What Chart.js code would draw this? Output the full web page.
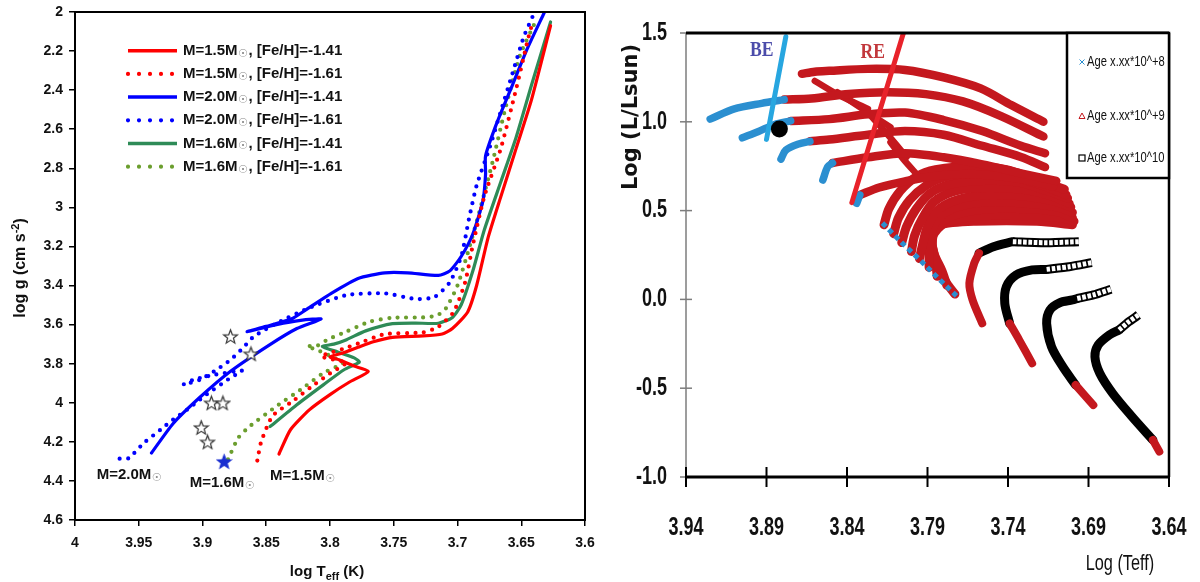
<!DOCTYPE html>
<html>
<head>
<meta charset="utf-8">
<script src="https://cdn.jsdelivr.net/npm/chart.js@4.4.0/dist/chart.umd.min.js"></script>
<style>
  html, body { margin: 0; padding: 0; background: #fff; }
  #wrap { position: relative; width: 1200px; height: 582px; }
  .panel { position: absolute; top: 0; width: 600px; height: 582px; }
  #left { left: 0; }
  #right { left: 600px; }
</style>
</head>
<body>
<div id="wrap">
  <div class="panel" id="left"><canvas id="cLeft"></canvas></div>
  <div class="panel" id="right"><canvas id="cRight"></canvas></div>
</div>
<script>
// ---------- Left panel: evolutionary tracks, log Teff vs log g ----------
const leftTempTicks = [4, 3.95, 3.9, 3.85, 3.8, 3.75, 3.7, 3.65, 3.6];
const leftGravTicks = [2, 2.2, 2.4, 2.6, 2.8, 3, 3.2, 3.4, 3.6, 3.8, 4, 4.2, 4.4, 4.6];

const m15feh141 = [[3.840,4.262],[3.831,4.138],[3.816,4.035],[3.800,3.958],[3.785,3.895],[3.770,3.840],[3.781,3.812],[3.793,3.780],[3.800,3.765],[3.790,3.745],[3.778,3.716],[3.766,3.688],[3.751,3.665],[3.727,3.658],[3.712,3.648],[3.704,3.620],[3.692,3.535],[3.685,3.400],[3.676,3.155],[3.666,2.945],[3.654,2.698],[3.642,2.450],[3.627,2.070]];
const m15feh161 = [[3.857,4.296],[3.854,4.200],[3.845,4.067],[3.829,3.991],[3.814,3.915],[3.800,3.850],[3.787,3.795],[3.795,3.782],[3.807,3.763],[3.800,3.745],[3.790,3.725],[3.778,3.697],[3.757,3.649],[3.727,3.640],[3.715,3.611],[3.703,3.535],[3.694,3.383],[3.688,3.193],[3.679,2.945],[3.666,2.698],[3.654,2.394],[3.645,2.146],[3.641,2.050]];
const m20feh141 = [[3.940,4.257],[3.923,4.106],[3.902,3.972],[3.878,3.839],[3.848,3.706],[3.826,3.620],[3.807,3.571],[3.823,3.578],[3.842,3.600],[3.865,3.636],[3.850,3.609],[3.830,3.570],[3.817,3.516],[3.799,3.440],[3.778,3.364],[3.757,3.335],[3.739,3.335],[3.715,3.348],[3.706,3.325],[3.697,3.250],[3.688,3.136],[3.680,2.965],[3.678,2.831],[3.678,2.736],[3.669,2.565],[3.657,2.375],[3.645,2.184],[3.632,2.004]];
const m20feh161 = [[3.965,4.286],[3.958,4.284],[3.946,4.206],[3.933,4.138],[3.923,4.086],[3.912,4.035],[3.902,3.984],[3.897,3.958],[3.878,3.872],[3.869,3.836],[3.890,3.856],[3.907,3.882],[3.915,3.907],[3.902,3.882],[3.889,3.831],[3.878,3.780],[3.868,3.718],[3.860,3.662],[3.841,3.590],[3.817,3.516],[3.787,3.449],[3.757,3.440],[3.733,3.469],[3.718,3.459],[3.706,3.383],[3.697,3.250],[3.691,3.059],[3.685,2.888],[3.675,2.698],[3.666,2.508],[3.657,2.317],[3.648,2.127],[3.641,2.022]];
const m16feh141 = [[3.847,4.122],[3.826,4.010],[3.805,3.907],[3.789,3.831],[3.777,3.792],[3.781,3.770],[3.794,3.740],[3.806,3.712],[3.797,3.700],[3.787,3.677],[3.772,3.632],[3.751,3.595],[3.733,3.592],[3.715,3.593],[3.704,3.563],[3.697,3.497],[3.688,3.326],[3.679,3.116],[3.666,2.869],[3.654,2.641],[3.642,2.375],[3.627,2.051]];
const m16feh161 = [[3.880,4.290],[3.872,4.180],[3.863,4.121],[3.842,4.018],[3.823,3.933],[3.805,3.847],[3.790,3.796],[3.800,3.760],[3.810,3.730],[3.818,3.711],[3.810,3.708],[3.802,3.677],[3.787,3.635],[3.769,3.585],[3.751,3.565],[3.727,3.563],[3.716,3.553],[3.709,3.516],[3.700,3.400],[3.691,3.212],[3.682,3.003],[3.672,2.755],[3.663,2.508],[3.651,2.222],[3.639,2.051]];

const starsOpen = [[3.878,3.660],[3.862,3.749],[3.893,4.000],[3.884,4.000],[3.901,4.126],[3.896,4.200]];
const starFilled = [[3.883,4.300]];

const massLabels = ['M=2.0M', 'M=1.6M', 'M=1.5M'];
const massLabelPos = [[3.983,4.368],[3.910,4.409],[3.847,4.373]];

const trackNames = ['M=1.5M☉, [Fe/H]=-1.41','M=1.5M☉, [Fe/H]=-1.61','M=2.0M☉, [Fe/H]=-1.41','M=2.0M☉, [Fe/H]=-1.61','M=1.6M☉, [Fe/H]=-1.41','M=1.6M☉, [Fe/H]=-1.61'];
const trackColors = ['#ff0000','#ff0000','#0000ff','#0000ff','#2e8b57','#6b9e2e'];
const trackDotted = [false, true, false, true, false, true];
const trackData = [m15feh141, m15feh161, m20feh141, m20feh161, m16feh141, m16feh161];

const pts = arr => arr.map(([x, y]) => ({ x, y }));

function starImage(size, fill, stroke) {
  const c = document.createElement('canvas');
  c.width = c.height = size;
  const g = c.getContext('2d');
  const r = size / 2 - 1.2, ri = r * 0.42, cx = size / 2, cy = size / 2 + 0.8;
  g.beginPath();
  for (let i = 0; i < 10; i++) {
    const a = -Math.PI / 2 + i * Math.PI / 5;
    const rr = i % 2 ? ri : r;
    g.lineTo(cx + rr * Math.cos(a), cy + rr * Math.sin(a));
  }
  g.closePath();
  g.fillStyle = fill; g.fill();
  g.strokeStyle = stroke; g.lineWidth = 1.2; g.stroke();
  return c;
}

const SANS = "'Liberation Sans', Arial, sans-serif";

// keep the plot box where the axes put it, without extra room for end labels
const noEdgePadding = s => { s.paddingLeft = 0; s.paddingRight = 0; s.paddingTop = 0; s.paddingBottom = 0; };

const leftDatasets = trackData.map((d, i) => ({
  label: trackNames[i],
  data: pts(d),
  showLine: true,
  borderColor: trackColors[i],
  backgroundColor: trackColors[i],
  borderWidth: trackDotted[i] ? 4.2 : 3.2,
  borderDash: trackDotted[i] ? [0, 8.5] : [],
  borderCapStyle: 'round',
  borderJoinStyle: 'round',
  pointRadius: 0,
  tension: 0.2,
  order: 2
}));
leftDatasets.push({
  label: 'stars', data: pts(starsOpen), showLine: false,
  pointStyle: starImage(17, '#ffffff', '#333333'), pointRadius: 8, order: 0
});
leftDatasets.push({
  label: 'star', data: pts(starFilled), showLine: false,
  pointStyle: starImage(17, '#1a2fd0', '#1a2fd0'), pointRadius: 8, order: 0
});

function drawSunText(ctx, x, y, before, after, size) {
  ctx.font = `bold ${size}px ${SANS}`;
  ctx.fillStyle = '#111';
  ctx.textAlign = 'left';
  ctx.textBaseline = 'middle';
  ctx.fillText(before, x, y);
  let cx = x + ctx.measureText(before).width;
  ctx.font = `${Math.round(size * 0.72)}px 'DejaVu Sans', sans-serif`;
  ctx.fillStyle = '#8a8a8a';
  ctx.fillText('☉', cx + 0.5, y + 3);
  cx += ctx.measureText('☉').width + 1;
  if (after) {
    ctx.font = `bold ${size}px ${SANS}`;
    ctx.fillStyle = '#111';
    ctx.fillText(after, cx, y);
  }
}

const leftDecor = {
  id: 'leftDecor',
  afterDraw(chart) {
    const { ctx, chartArea: a, scales: { x, y } } = chart;
    ctx.save();
    ctx.strokeStyle = '#000';
    ctx.lineWidth = 2;
    ctx.strokeRect(a.left, a.top, a.right - a.left, a.bottom - a.top);

    // legend inside the plot
    trackNames.forEach((name, i) => {
      const ly = 50.7 + i * 23.2;
      ctx.beginPath();
      ctx.strokeStyle = trackColors[i];
      ctx.lineCap = 'round';
      if (trackDotted[i]) { ctx.lineWidth = 4.2; ctx.setLineDash([0, 11]); }
      else { ctx.lineWidth = 3.5; ctx.setLineDash([]); ctx.lineCap = 'butt'; }
      ctx.moveTo(128, ly); ctx.lineTo(177, ly);
      ctx.stroke();
      ctx.setLineDash([]);
      const parts = name.split('☉');
      drawSunText(ctx, 183, ly, parts[0], parts[1], 15);
    });

    // mass labels under the zero-age ends
    massLabels.forEach((t, i) => {
      const px = x.getPixelForValue(massLabelPos[i][0]);
      const py = y.getPixelForValue(massLabelPos[i][1]);
      drawSunText(ctx, px, py, t, '', 15);
    });

    // axis titles
    ctx.fillStyle = '#111';
    ctx.textBaseline = 'alphabetic';
    const xt = [['log T', 15, 0], ['eff', 11, 4], [' (K)', 15, 0]];
    let w = 0;
    xt.forEach(([s, f]) => { ctx.font = `bold ${f}px ${SANS}`; w += ctx.measureText(s).width; });
    let cx = 327 - w / 2;
    xt.forEach(([s, f, dy]) => { ctx.font = `bold ${f}px ${SANS}`; ctx.fillText(s, cx, 576 + dy); cx += ctx.measureText(s).width; });
    ctx.translate(25, 268);
    ctx.rotate(-Math.PI / 2);
    const yt = [['log g (cm s', 16, 0], ['-2', 11, -6], [')', 16, 0]];
    w = 0;
    yt.forEach(([s, f]) => { ctx.font = `bold ${f}px ${SANS}`; w += ctx.measureText(s).width; });
    cx = -w / 2;
    yt.forEach(([s, f, dy]) => { ctx.font = `bold ${f}px ${SANS}`; ctx.fillText(s, cx, dy); cx += ctx.measureText(s).width; });
    ctx.restore();
  }
};

new Chart(document.getElementById('cLeft'), {
  type: 'scatter',
  data: { datasets: leftDatasets },
  options: {
    responsive: true, maintainAspectRatio: false, animation: false, events: [],
    layout: { padding: { top: 12, right: 15, bottom: 0, left: 0 } },
    plugins: { legend: { display: false }, tooltip: { enabled: false } },
    scales: {
      x: {
        type: 'linear', min: 3.6, max: 4, reverse: true,
        afterBuildTicks: s => { s.ticks = leftTempTicks.map(v => ({ value: v })); },
        afterFit: s => { s.height = 62; noEdgePadding(s); },
        grid: { drawOnChartArea: false, drawTicks: true, tickLength: 6, color: '#000', lineWidth: 1.5 },
        border: { display: false },
        ticks: { color: '#111', font: { family: SANS, size: 14, weight: 'bold' }, padding: 9, maxRotation: 0, callback: v => String(v) }
      },
      y: {
        type: 'linear', min: 2, max: 4.6, reverse: true,
        afterBuildTicks: s => { s.ticks = leftGravTicks.map(v => ({ value: v })); },
        afterFit: s => { s.width = 75; noEdgePadding(s); },
        grid: { drawOnChartArea: false, drawTicks: true, tickLength: 6, color: '#000', lineWidth: 1.5 },
        border: { display: false },
        ticks: { color: '#111', font: { family: SANS, size: 14, weight: 'bold' }, padding: 6, callback: v => String(v) }
      }
    }
  },
  plugins: [leftDecor]
});

// ---------- Right panel: isochrones, log Teff vs log L ----------
const rightTempTicks = [3.94, 3.89, 3.84, 3.79, 3.74, 3.69, 3.64];
const rightLumTicks = [1.5, 1.0, 0.5, 0.0, -0.5, -1.0];

// young isochrones (blue = 10^8 yr part, red = 10^9 yr part)
const iso1Red = [[3.868,1.270],[3.860,1.282],[3.851,1.287],[3.827,1.298],[3.804,1.292],[3.780,1.250],[3.757,1.188],[3.738,1.094],[3.718,1.000]];
const iso2Blue = [[3.925,1.015],[3.910,1.073],[3.893,1.104],[3.879,1.125]];
const iso2Red = [[3.879,1.125],[3.862,1.131],[3.839,1.156],[3.815,1.167],[3.791,1.156],[3.768,1.115],[3.744,1.031],[3.718,0.917]];
const iso3Blue = [[3.905,0.910],[3.895,0.945],[3.885,0.985],[3.875,1.005]];
const iso3Red = [[3.875,1.005],[3.851,1.015],[3.827,1.042],[3.804,1.052],[3.780,1.010],[3.756,0.948],[3.732,0.865],[3.717,0.823]];
const iso4Blue = [[3.881,0.790],[3.878,0.840],[3.870,0.875],[3.863,0.890]];
const iso4Red = [[3.863,0.890],[3.851,0.900],[3.827,0.927],[3.804,0.948],[3.780,0.927],[3.756,0.865],[3.732,0.802],[3.717,0.745]];
const iso5Blue = [[3.855,0.672],[3.852,0.747],[3.849,0.768]];
const iso5Red = [[3.849,0.768],[3.827,0.800],[3.804,0.823],[3.780,0.800],[3.756,0.760],[3.732,0.710],[3.710,0.667]];
const iso6Blue = [[3.834,0.541],[3.832,0.588]];
const iso6Red = [[3.832,0.588],[3.820,0.630],[3.804,0.665],[3.785,0.695],[3.760,0.705],[3.730,0.675],[3.712,0.635]];
const hookStrands = [
  [[3.860,1.230],[3.845,1.150],[3.827,1.073]],
  [[3.846,1.167],[3.830,1.070],[3.813,0.969]],
  [[3.827,1.052],[3.815,0.930],[3.803,0.802]],
  [[3.813,0.885],[3.805,0.790],[3.796,0.698]]
];
// older 10^9 yr isochrones fanning out below
const fan = [
  [[3.817,0.42],[3.814,0.51],[3.807,0.61],[3.797,0.69],[3.785,0.73],[3.762,0.75],[3.741,0.73],[3.721,0.67],[3.705,0.62]],
  [[3.811,0.37],[3.808,0.46],[3.801,0.56],[3.791,0.64],[3.779,0.69],[3.758,0.71],[3.737,0.69],[3.718,0.64],[3.704,0.59]],
  [[3.806,0.32],[3.803,0.41],[3.797,0.51],[3.788,0.60],[3.775,0.65],[3.755,0.67],[3.734,0.66],[3.715,0.61],[3.703,0.57]],
  [[3.800,0.27],[3.798,0.36],[3.793,0.46],[3.786,0.55],[3.773,0.61],[3.753,0.63],[3.731,0.62],[3.712,0.58],[3.702,0.54]],
  [[3.795,0.23],[3.793,0.31],[3.790,0.41],[3.784,0.50],[3.772,0.56],[3.751,0.59],[3.729,0.58],[3.710,0.55],[3.701,0.52]],
  [[3.789,0.18],[3.789,0.27],[3.788,0.36],[3.784,0.45],[3.772,0.52],[3.751,0.55],[3.727,0.54],[3.709,0.52],[3.700,0.49]],
  [[3.784,0.13],[3.785,0.22],[3.787,0.31],[3.785,0.40],[3.775,0.47],[3.753,0.51],[3.726,0.51],[3.708,0.49],[3.700,0.46]],
  [[3.778,0.08],[3.781,0.16],[3.786,0.26],[3.787,0.35],[3.779,0.43],[3.757,0.47],[3.725,0.47],[3.707,0.46],[3.699,0.44]],
  [[3.773,0.03],[3.778,0.09],[3.785,0.20],[3.789,0.30],[3.789,0.37],[3.783,0.42],[3.760,0.44],[3.722,0.44],[3.700,0.42]]
];
const fanEdgeBlue = [[3.818,0.430],[3.806,0.320],[3.795,0.225],[3.784,0.125],[3.772,0.020]];

// 10^10 yr isochrones: red lower main sequence, black body, hollow upper end
const oldA = { red: [[3.756,-0.135],[3.762,-0.003],[3.764,0.091],[3.761,0.203],[3.758,0.260]],
               black: [[3.758,0.260],[3.749,0.297],[3.737,0.325]],
               hollow: [[3.737,0.325],[3.716,0.319],[3.696,0.325]] };
const oldB = { red: [[3.725,-0.360],[3.733,-0.229],[3.739,-0.135]],
               black: [[3.739,-0.135],[3.742,-0.022],[3.741,0.072],[3.735,0.137],[3.725,0.166],[3.716,0.169]],
               hollow: [[3.716,0.169],[3.702,0.184],[3.688,0.207]] };
const oldC = { red: [[3.687,-0.595],[3.698,-0.482]],
               black: [[3.698,-0.482],[3.706,-0.379],[3.713,-0.266],[3.716,-0.135],[3.714,-0.060],[3.708,-0.019],[3.700,-0.003],[3.697,0.005]],
               hollow: [[3.697,0.005],[3.687,0.025],[3.676,0.057]] };
const oldD = { red: [[3.646,-0.857],[3.650,-0.792]],
               black: [[3.650,-0.792],[3.663,-0.660],[3.675,-0.529],[3.683,-0.416],[3.686,-0.323],[3.684,-0.257],[3.677,-0.200],[3.671,-0.172]],
               hollow: [[3.671,-0.172],[3.665,-0.126],[3.659,-0.088]] };

const blueEdge = [[3.878,1.479],[3.890,0.901]];
const redEdge = [[3.805,1.498],[3.837,0.545]];
const starPoint = [[3.882,0.959]];
const edgeLabels = ['BE', 'RE'];
const edgeLabelPos = [[3.893,1.404],[3.824,1.393]];
const ageLegend = ['Age x.xx*10^+8', 'Age x.xx*10^+9', 'Age x.xx*10^10'];

const RED = '#c4181e', BLUE = '#2b8fd0', BLACK = '#000000';

function trackSet(data, color, width, order, extra) {
  return Object.assign({
    data: pts(data), showLine: true, borderColor: color, backgroundColor: color,
    borderWidth: width, pointRadius: 0, tension: 0.3, order,
    borderCapStyle: 'round', borderJoinStyle: 'round'
  }, extra || {});
}

const rightDatasets = [];
rightDatasets.push(trackSet(starPoint, BLACK, 0, 0, { showLine: false, pointRadius: 8.5, pointStyle: 'circle', backgroundColor: '#000' }));
rightDatasets.push(trackSet(blueEdge, '#27a6e0', 5, 1, { tension: 0 }));
rightDatasets.push(trackSet(redEdge, '#e8222a', 5, 1, { tension: 0 }));
[iso2Blue, iso3Blue, iso4Blue, iso5Blue, iso6Blue].forEach(d => rightDatasets.push(trackSet(d, BLUE, 7.5, 3)));
rightDatasets.push(trackSet(fanEdgeBlue, BLUE, 5, 3, { borderDash: [5, 4], tension: 0, borderCapStyle: 'butt' }));
[iso1Red, iso2Red, iso3Red, iso4Red, iso5Red, iso6Red].forEach(d => rightDatasets.push(trackSet(d, RED, 8.5, 4)));
hookStrands.forEach(d => rightDatasets.push(trackSet(d, RED, 6.5, 4)));
fan.forEach(d => rightDatasets.push(trackSet(d, RED, 9, 5)));
[oldA, oldB, oldC, oldD].forEach(iso => {
  rightDatasets.push(trackSet(iso.hollow, '#ffffff', 5, 2, { borderDash: [3.6, 1.6], borderCapStyle: 'butt', tension: 0.2 }));
  rightDatasets.push(trackSet(iso.hollow, BLACK, 9, 3, { borderCapStyle: 'butt', tension: 0.2 }));
  rightDatasets.push(trackSet(iso.red, RED, 8, 3));
  rightDatasets.push(trackSet(iso.black, BLACK, 9, 4));
});

// condensed-looking text: regular font squeezed horizontally
function narrowText(ctx, text, x, y, font, sx, align) {
  ctx.save();
  ctx.translate(x, y);
  ctx.scale(sx, 1);
  ctx.font = font;
  ctx.textAlign = align;
  ctx.fillText(text, 0, 0);
  ctx.restore();
}

const rightDecor = {
  id: 'rightDecor',
  afterDraw(chart) {
    const { ctx, chartArea: a, scales: { x, y } } = chart;
    const seg = (x1, y1, x2, y2) => { ctx.beginPath(); ctx.moveTo(x1, y1); ctx.lineTo(x2, y2); ctx.stroke(); };
    ctx.save();
    ctx.lineCap = 'butt';
    // left axis (thin grey) and its ticks
    ctx.strokeStyle = '#7d7d7d'; ctx.lineWidth = 1.5;
    seg(a.left, a.top, a.left, a.bottom);
    y.ticks.forEach(t => { const py = y.getPixelForValue(t.value); seg(a.left - 6, py, a.left + 6, py); });
    // frame
    ctx.strokeStyle = '#000';
    ctx.lineWidth = 3; seg(a.left, a.top, a.right, a.top);
    ctx.lineWidth = 2.5; seg(a.right, a.top, a.right, a.bottom);
    ctx.lineWidth = 3; seg(a.left - 1, a.bottom, a.right + 1, a.bottom);
    ctx.lineWidth = 2;
    x.ticks.forEach(t => { const px = x.getPixelForValue(t.value); seg(px, a.bottom - 10, px, a.bottom + 10); });

    // tick labels
    ctx.fillStyle = '#111';
    ctx.textBaseline = 'middle';
    const tickFont = `bold 25px ${SANS}`;
    x.ticks.forEach(t => {
      narrowText(ctx, Number(t.value).toFixed(2), x.getPixelForValue(t.value), a.bottom + 51, tickFont, 0.72, 'center');
    });
    y.ticks.forEach(t => {
      narrowText(ctx, Number(t.value).toFixed(1), a.left - 19, y.getPixelForValue(t.value), tickFont, 0.72, 'right');
    });

    // age legend box
    const bx = 467, by = a.top, bw = a.right - bx, bh = 178 - a.top;
    ctx.fillStyle = '#fff'; ctx.fillRect(bx, by, bw, bh);
    ctx.strokeStyle = '#000'; ctx.lineWidth = 2.5; ctx.strokeRect(bx, by, bw, bh);
    const rowsY = [62, 116, 158];
    rowsY.forEach((ry, i) => {
      const mx = 482;
      ctx.lineWidth = 1;
      if (i === 0) {
        ctx.strokeStyle = BLUE; seg(mx - 2.5, ry - 2.5, mx + 2.5, ry + 2.5); seg(mx - 2.5, ry + 2.5, mx + 2.5, ry - 2.5);
      } else if (i === 1) {
        ctx.strokeStyle = RED; ctx.beginPath(); ctx.moveTo(mx, ry - 3); ctx.lineTo(mx + 3, ry + 2.5); ctx.lineTo(mx - 3, ry + 2.5); ctx.closePath(); ctx.stroke();
      } else {
        ctx.strokeStyle = '#000'; ctx.lineWidth = 1.2; ctx.strokeRect(mx - 3, ry - 3, 6, 6);
      }
      ctx.fillStyle = '#111';
      narrowText(ctx, ageLegend[i], 487, ry, `14px ${SANS}`, 0.8, 'left');
    });

    // BE / RE labels
    const labelColors = ['#4b4caa', '#c2383c'];
    edgeLabels.forEach((t, i) => {
      ctx.fillStyle = labelColors[i];
      narrowText(ctx, t, x.getPixelForValue(edgeLabelPos[i][0]), y.getPixelForValue(edgeLabelPos[i][1]),
        `bold 22px 'Liberation Serif', 'DejaVu Serif', serif`, 0.8, 'center');
    });

    // axis titles
    ctx.fillStyle = '#111';
    narrowText(ctx, 'Log (Teff)', 520, 564, `22px ${SANS}`, 0.74, 'center');
    ctx.translate(32, 117);
    ctx.rotate(-Math.PI / 2);
    ctx.font = `bold 21px 'DejaVu Sans', sans-serif`;
    ctx.textAlign = 'center';
    ctx.fillText('Log (L/Lsun)', 0, 0);
    ctx.restore();
  }
};

new Chart(document.getElementById('cRight'), {
  type: 'scatter',
  data: { datasets: rightDatasets },
  options: {
    responsive: true, maintainAspectRatio: false, animation: false, events: [],
    layout: { padding: { top: 33, right: 31, bottom: 0, left: 0 } },
    plugins: { legend: { display: false }, tooltip: { enabled: false } },
    scales: {
      x: {
        type: 'linear', min: 3.64, max: 3.94, reverse: true,
        afterBuildTicks: s => { s.ticks = rightTempTicks.map(v => ({ value: v })); },
        afterFit: s => { s.height = 105; noEdgePadding(s); },
        grid: { display: false, drawTicks: false },
        border: { display: false },
        ticks: { display: false }
      },
      y: {
        type: 'linear', min: -1, max: 1.5,
        afterBuildTicks: s => { s.ticks = rightLumTicks.map(v => ({ value: v })); },
        afterFit: s => { s.width = 86; noEdgePadding(s); },
        grid: { display: false, drawTicks: false },
        border: { display: false },
        ticks: { display: false }
      }
    }
  },
  plugins: [rightDecor]
});
</script>
</body>
</html>
